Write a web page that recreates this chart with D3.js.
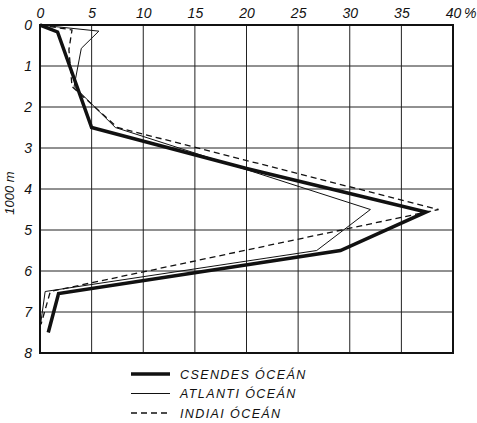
<!DOCTYPE html>
<html>
<head>
<meta charset="utf-8">
<script src="https://cdn.jsdelivr.net/npm/d3@7"></script>
<style>
  body { margin: 0; background: #fff; }
  text { font-family: "Liberation Sans", Arial, sans-serif; font-style: italic; fill: #111; }
</style>
</head>
<body>
<div id="chart"></div>
<script>
// tick values
const pctTicks = [0, 5, 10, 15, 20, 25, 30, 35, 40];
const depthTicks = [0, 1, 2, 3, 4, 5, 6, 7, 8];

// series: percentage at each depth (1000 m)
const csendesPct   = [0, 1.7, 5.0, 20.0, 37.4, 29.1, 1.8, 0.8];
const csendesDepth = [0, 0.17, 2.5, 3.5, 4.56, 5.5, 6.55, 7.5];

const atlantiPct   = [0, 5.7, 4.0, 3.3, 7.3, 32.0, 26.8, 0.5, 0];
const atlantiDepth = [0, 0.15, 0.57, 1.5, 2.5, 4.5, 5.5, 6.5, 7.4];

const indiaiPct    = [0, 3.1, 2.8, 3.1, 7.5, 38.6, 1.0, 0.1];
const indiaiDepth  = [0, 0.12, 0.6, 1.5, 2.5, 4.5, 6.5, 7.3];

const seriesNames = ["CSENDES ÓCEÁN", "ATLANTI ÓCEÁN", "INDIAI ÓCEÁN"];

const W = 477, H = 423;
const margin = { top: 25, right: 24, bottom: 70, left: 40 };
const width = W - margin.left - margin.right;
const height = H - margin.top - margin.bottom;

const svg = d3.select("#chart").append("svg")
  .attr("width", W).attr("height", H);

const g = svg.append("g").attr("transform", `translate(${margin.left},${margin.top})`);

const x = d3.scaleLinear().domain([0, 40]).range([0, width]);
const y = d3.scaleLinear().domain([0, 8]).range([0, height]);

// grid
g.append("g").selectAll("line").data(pctTicks.slice(1, -1)).enter().append("line")
  .attr("x1", d => x(d)).attr("x2", d => x(d))
  .attr("y1", 0).attr("y2", height)
  .attr("stroke", "#222").attr("stroke-width", 1);
g.append("g").selectAll("line").data(depthTicks.slice(1, -1)).enter().append("line")
  .attr("y1", d => y(d)).attr("y2", d => y(d))
  .attr("x1", 0).attr("x2", width)
  .attr("stroke", "#222").attr("stroke-width", 1);

// frame
g.append("rect")
  .attr("width", width).attr("height", height)
  .attr("fill", "none").attr("stroke", "#111").attr("stroke-width", 2);

// axes (labels only)
const xAxisG = g.append("g")
  .call(d3.axisTop(x).tickValues(pctTicks).tickSize(0).tickPadding(7));
xAxisG.select(".domain").remove();
xAxisG.selectAll("text").attr("font-size", 14).attr("font-family", null);
g.append("text")
  .attr("x", x(40) + 11).attr("y", -7)
  .attr("font-size", 14)
  .text("%");

const yAxisG = g.append("g")
  .call(d3.axisLeft(y).tickValues(depthTicks).tickSize(0).tickPadding(8));
yAxisG.select(".domain").remove();
yAxisG.selectAll("text").attr("font-size", 14).attr("font-family", null);

// y title
svg.append("text")
  .attr("transform", `translate(14,193) rotate(-90)`)
  .attr("text-anchor", "middle")
  .attr("font-size", 13)
  .text("1000 m");

// lines
const line = d3.line().x(d => x(d[0])).y(d => y(d[1]));
const styles = [
  { w: 3.5, dash: null },
  { w: 1, dash: null },
  { w: 1.3, dash: "6,4" }
];
const series = [
  d3.zip(csendesPct, csendesDepth),
  d3.zip(atlantiPct, atlantiDepth),
  d3.zip(indiaiPct, indiaiDepth)
];

series.forEach((s, i) => {
  g.append("path")
    .datum(s)
    .attr("d", line)
    .attr("fill", "none")
    .attr("stroke", "#111")
    .attr("stroke-width", styles[i].w)
    .attr("stroke-linejoin", "miter")
    .attr("stroke-dasharray", styles[i].dash);
});

// legend
const legend = svg.append("g").attr("transform", "translate(131,374)");
seriesNames.forEach((name, i) => {
  const item = legend.append("g").attr("transform", `translate(0,${i * 19.5})`);
  item.append("line")
    .attr("x1", 0).attr("x2", 39)
    .attr("stroke", "#111")
    .attr("stroke-width", styles[i].w)
    .attr("stroke-dasharray", styles[i].dash);
  item.append("text")
    .attr("x", 49).attr("y", 4.5)
    .attr("font-size", 12.5)
    .attr("letter-spacing", 1.4)
    .text(name);
});
</script>
</body>
</html>
